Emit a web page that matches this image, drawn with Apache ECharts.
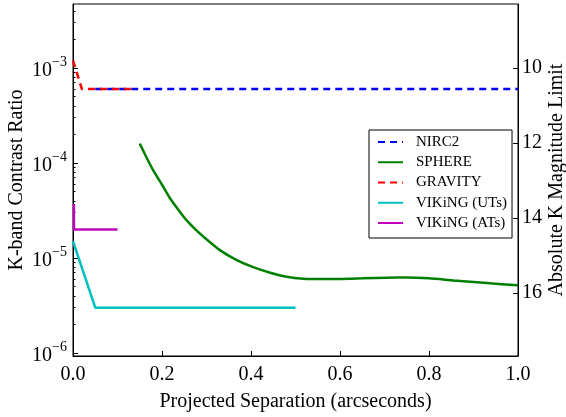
<!DOCTYPE html>
<html><head><meta charset="utf-8">
<script src="https://cdn.jsdelivr.net/npm/echarts@6/dist/echarts.min.js"></script>
<style>html,body{margin:0;padding:0;background:#fff}#chart{width:566px;height:417px}</style>
</head><body><div id="chart"></div>
<script>
// Contrast curves (separation in arcsec, K-band contrast ratio)
const nirc2Sep = [0.05, 1.0];
const nirc2Contrast = [6.0e-4, 6.0e-4];
const sphereSep = [0.15, 0.165, 0.18, 0.2, 0.218, 0.237, 0.255, 0.275, 0.293, 0.33, 0.368, 0.405, 0.443, 0.48, 0.518, 0.555, 0.6, 0.65, 0.705, 0.75, 0.8, 0.855, 0.93, 1.0];
const sphereContrast = [1.6e-4, 1.15e-4, 8.4e-5, 5.9e-5, 4.25e-5, 3.2e-5, 2.5e-5, 2.0e-5, 1.68e-5, 1.21e-5, 9.5e-6, 8.0e-6, 7.0e-6, 6.35e-6, 6.05e-6, 6.0e-6, 6.02e-6, 6.1e-6, 6.2e-6, 6.22e-6, 6.1e-6, 5.8e-6, 5.45e-6, 5.15e-6];
const gravitySep = [0.0, 0.02, 0.13];
const gravityContrast = [1.2e-3, 6.0e-4, 6.0e-4];
const vikingUTSep = [0.0, 0.05, 0.5];
const vikingUTContrast = [1.5e-5, 3.0e-6, 3.0e-6];
const vikingATSep = [0.002, 0.002, 0.1];
const vikingATContrast = [3.7e-5, 2.0e-5, 2.0e-5];

// Axis ticks
const sepTicks = [0, 0.2, 0.4, 0.6, 0.8, 1.0];
const contrastTicks = [1e-6, 1e-5, 1e-4, 1e-3];
const magTicks = [10, 12, 14, 16];
const contrastMinorTicks = [];
for (let k = -7; k <= -3; k++) {
  for (let m = 2; m <= 9; m++) contrastMinorTicks.push(m * Math.pow(10, k));
}

const contrastRange = [Math.pow(10, -6.032), Math.pow(10, -2.326)];
const magRange = [8.29, 17.68];

const zip = (xs, ys) => xs.map((x, i) => [x, ys[i]]);
const FONT = 'Liberation Serif';

const chart = echarts.init(document.getElementById('chart'), null, { renderer: 'canvas' });

function lineSeries(name, xs, ys, color, dashed) {
  return {
    name, type: 'line', data: zip(xs, ys), yAxisIndex: 0,
    symbol: 'none', smooth: name === 'SPHERE' ? 0.2 : false,
    lineStyle: { color, width: 2.5, type: dashed ? [7, 5] : 'solid' },
    itemStyle: { color },
    emphasis: { disabled: true }, animation: false
  };
}

chart.setOption({
  animation: false,
  backgroundColor: '#fff',
  textStyle: { fontFamily: FONT },
  grid: { left: 73, right: 48, top: 4, bottom: 61, outerBoundsMode: 'none', containLabel: false, show: true, borderColor: '#000', borderWidth: 1, backgroundColor: 'transparent' },
  legend: {
    orient: 'vertical', left: 369, top: 130,
    backgroundColor: '#fff', borderColor: '#000', borderWidth: 1, borderRadius: 0,
    padding: [4, 5, 7, 8], itemGap: 4.25, itemWidth: 25, itemHeight: 14,
    itemStyle: { color: 'transparent', borderColor: 'transparent', borderWidth: 0 },
    textStyle: { fontFamily: FONT, fontSize: 15, color: '#000', lineHeight: 16, padding: [0, 0, 0, 8] },
    data: ['NIRC2', 'SPHERE', 'GRAVITY', 'VIKiNG (UTs)', 'VIKiNG (ATs)']
  },
  xAxis: {
    type: 'value', min: 0, max: 1, interval: 0.2,
    name: 'Projected Separation (arcseconds)', nameLocation: 'middle', nameGap: 36, nameMoveOverlap: false,
    nameTextStyle: { fontFamily: FONT, fontSize: 20, color: '#000' },
    axisLine: { lineStyle: { color: '#000', width: 1 } },
    axisTick: { inside: true, length: 5, lineStyle: { color: '#000' } },
    axisLabel: { fontFamily: FONT, fontSize: 20, color: '#000', margin: 9, formatter: v => v.toFixed(1), showMinLabel: true, showMaxLabel: true },
    splitLine: { show: false }
  },
  yAxis: [
    {
      type: 'log', logBase: 10, min: contrastRange[0], max: contrastRange[1], position: 'left',
      name: 'K-band Contrast Ratio', nameLocation: 'middle', nameGap: 46, nameRotate: 90, nameMoveOverlap: false,
      nameTextStyle: { fontFamily: FONT, fontSize: 20, color: '#000' },
      axisLine: { show: true, lineStyle: { color: '#000', width: 1 } },
      axisTick: { inside: true, length: 5, customValues: contrastTicks, lineStyle: { color: '#000' } },
      axisLabel: {
        customValues: contrastTicks, margin: 6, color: '#000',
        formatter: v => '{b|10}{e|\u2212' + Math.abs(Math.round(Math.log10(v))) + '}',
        rich: {
          b: { fontFamily: FONT, fontSize: 20, color: '#000', lineHeight: 26, verticalAlign: 'bottom' },
          e: { fontFamily: FONT, fontSize: 14, color: '#000', lineHeight: 26, verticalAlign: 'top' }
        }
      },
      splitLine: { show: false }
    },
    {
      type: 'value', min: magRange[0], max: magRange[1], inverse: true, position: 'right',
      name: 'Absolute K Magnitude Limit', nameLocation: 'middle', nameGap: 29, nameRotate: 90, nameMoveOverlap: false,
      nameTextStyle: { fontFamily: FONT, fontSize: 20, color: '#000' },
      axisLine: { show: true, lineStyle: { color: '#000', width: 1 } },
      axisTick: { inside: true, length: 5, customValues: magTicks, lineStyle: { color: '#000' } },
      axisLabel: { customValues: magTicks, fontFamily: FONT, fontSize: 20, color: '#000', margin: 4 },
      splitLine: { show: false }
    },
    {
      // minor ticks of the contrast axis
      type: 'log', logBase: 10, min: contrastRange[0], max: contrastRange[1], position: 'left',
      axisLine: { show: false },
      axisTick: { inside: true, length: 2.5, customValues: contrastMinorTicks, lineStyle: { color: '#000' } },
      axisLabel: { show: false },
      splitLine: { show: false }
    }
  ],
  series: [
    lineSeries('NIRC2', nirc2Sep, nirc2Contrast, '#0000ff', true),
    lineSeries('SPHERE', sphereSep, sphereContrast, '#008000', false),
    lineSeries('GRAVITY', gravitySep, gravityContrast, '#ff0000', true),
    lineSeries('VIKiNG (UTs)', vikingUTSep, vikingUTContrast, '#00bfbf', false),
    lineSeries('VIKiNG (ATs)', vikingATSep, vikingATContrast, '#bf00bf', false)
  ]
});
</script>
</body></html>
